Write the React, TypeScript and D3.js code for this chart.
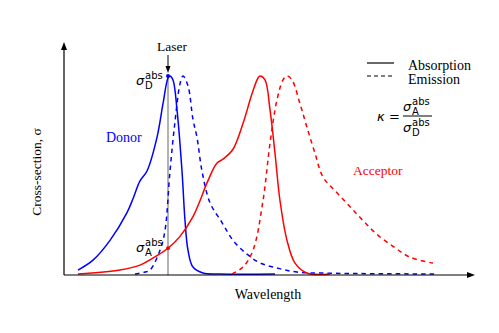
import React from "react";
import * as d3 from "d3";

const width = 499;
const height = 333;

// wavelength in arbitrary units (0 = axis origin), cross-section normalised to peak
const donorAbsX = [14, 29, 46, 63, 69, 76, 83, 93, 99, 104, 106, 109, 113, 118, 121, 124, 129, 139, 156, 211];
const donorAbsY = [0.02, 0.07, 0.17, 0.31, 0.38, 0.47, 0.52, 0.69, 0.86, 0.99, 1.0, 0.98, 0.83, 0.52, 0.27, 0.12, 0.035, 0.005, 0, 0];

const donorEmX = [71, 81, 86, 96, 101, 106, 111, 116, 119, 124, 129, 133, 138, 146, 158, 169, 183, 196, 213, 233, 266, 374];
const donorEmY = [0, 0.01, 0.02, 0.12, 0.22, 0.52, 0.77, 0.96, 1.0, 0.95, 0.78, 0.69, 0.52, 0.36, 0.26, 0.17, 0.1, 0.056, 0.03, 0.01, 0.004, 0];

const accAbsX = [14, 56, 76, 93, 104, 116, 129, 136, 143, 153, 159, 169, 179, 188, 194, 196, 201, 206, 211, 216, 223, 231, 243, 266];
const accAbsY = [0, 0.02, 0.045, 0.093, 0.13, 0.19, 0.29, 0.37, 0.46, 0.56, 0.58, 0.63, 0.76, 0.91, 0.99, 1.0, 0.98, 0.83, 0.61, 0.37, 0.17, 0.055, 0.005, 0];

const accEmX = [168, 179, 189, 199, 206, 213, 219, 223, 228, 236, 243, 251, 259, 273, 286, 299, 313, 329, 346, 369];
const accEmY = [0, 0.035, 0.12, 0.37, 0.66, 0.88, 0.98, 1.0, 0.98, 0.86, 0.74, 0.61, 0.49, 0.41, 0.34, 0.27, 0.2, 0.14, 0.085, 0.055];

const laserX = 104;
const laserSigmaA = 0.13;
const laserSigmaD = 1.0;

const blue = "#0000ff";
const red = "#ff0000";
const serif = "'Liberation Serif', 'Times New Roman', serif";
const mathFont = "'DejaVu Sans', sans-serif";

const x = d3.scaleLinear().domain([0, 409]).range([64, 473]);
const y = d3.scaleLinear().domain([0, 1]).range([274, 76]);

const line = d3
  .line<[number, number]>()
  .x(d => x(d[0]))
  .y(d => Math.min(274, y(d[1])))
  .curve(d3.curveCatmullRom.alpha(0.5));

const zip = (xs: number[], ys: number[]) => xs.map((v, i) => [v, ys[i]] as [number, number]);

function Sigma({ px, py, sub, sup = "abs" }: { px: number; py: number; sub: string; sup?: string }) {
  return (
    <g fontFamily={mathFont}>
      <text x={px} y={py} fontSize={13} fontStyle="italic">σ</text>
      <text x={px + 9} y={py - 6} fontSize={10}>{sup}</text>
      <text x={px + 9} y={py + 4} fontSize={10}>{sub}</text>
    </g>
  );
}

export default function App() {
  const axisY = 275;
  return (
    <svg width={width} height={height} style={{ position: "absolute", left: 0, top: 0, background: "#fff" }}>
      {/* laser line */}
      <line x1={x(laserX)} x2={x(laserX)} y1={y(laserSigmaD)} y2={axisY} stroke="#999" strokeWidth={1.5} />

      {/* curves */}
      <path d={line(zip(donorAbsX, donorAbsY))!} fill="none" stroke={blue} strokeWidth={1.5} />
      <path d={line(zip(donorEmX, donorEmY))!} fill="none" stroke={blue} strokeWidth={1.5} strokeDasharray="4.5,4" />
      <path d={line(zip(accAbsX, accAbsY))!} fill="none" stroke={red} strokeWidth={1.5} />
      <path d={line(zip(accEmX, accEmY))!} fill="none" stroke={red} strokeWidth={1.5} strokeDasharray="4.5,4" />

      <circle cx={x(laserX)} cy={y(laserSigmaD)} r={2} fill={blue} />
      <circle cx={x(laserX)} cy={y(laserSigmaA)} r={2} fill={red} />

      {/* axes */}
      <line x1={64} x2={64} y1={axisY} y2={48} stroke="#000" strokeWidth={1.2} />
      <path d={`M64,42 L61,50 L67,50 Z`} fill="#000" />
      <line x1={64} x2={468} y1={axisY} y2={axisY} stroke="#000" strokeWidth={1.2} />
      <path d={`M475,${axisY} L467,${axisY - 3} L467,${axisY + 3} Z`} fill="#000" />

      <text x={268} y={299} textAnchor="middle" fontFamily={serif} fontSize={14}>Wavelength</text>
      <text transform="translate(41,172) rotate(-90)" textAnchor="middle" fontFamily={serif} fontSize={13.5}>Cross-section, σ</text>

      {/* laser label */}
      <text x={x(laserX) + 4} y={51} textAnchor="middle" fontFamily={serif} fontSize={13.5}>Laser</text>
      <line x1={x(laserX)} x2={x(laserX)} y1={55} y2={67} stroke="#000" strokeWidth={1} />
      <path d={`M${x(laserX)},73 L${x(laserX) - 2.5},66 L${x(laserX) + 2.5},66 Z`} fill="#000" />

      <Sigma px={136} py={85} sub="D" />
      <Sigma px={136} py={252} sub="A" />

      <text x={106} y={142} fontFamily={serif} fontSize={14} fill={blue}>Donor</text>
      <text x={353} y={175} fontFamily={serif} fontSize={13.5} fill={red}>Acceptor</text>

      {/* legend */}
      <line x1={367} x2={394} y1={63} y2={63} stroke="#000" strokeWidth={1.2} />
      <text x={408} y={70} fontFamily={serif} fontSize={14}>Absorption</text>
      <line x1={367} x2={394} y1={76} y2={76} stroke="#000" strokeWidth={1.2} strokeDasharray="4,3" />
      <text x={408} y={84} fontFamily={serif} fontSize={14}>Emission</text>

      {/* kappa */}
      <text x={377} y={121} fontFamily={mathFont} fontSize={13} fontStyle="italic">κ</text>
      <text x={389} y={121} fontFamily={mathFont} fontSize={13}>=</text>
      <line x1={403} x2={432} y1={116} y2={116} stroke="#000" strokeWidth={1} />
      <Sigma px={403} py={111} sub="A" />
      <Sigma px={403} py={132} sub="D" />
    </svg>
  );
}
